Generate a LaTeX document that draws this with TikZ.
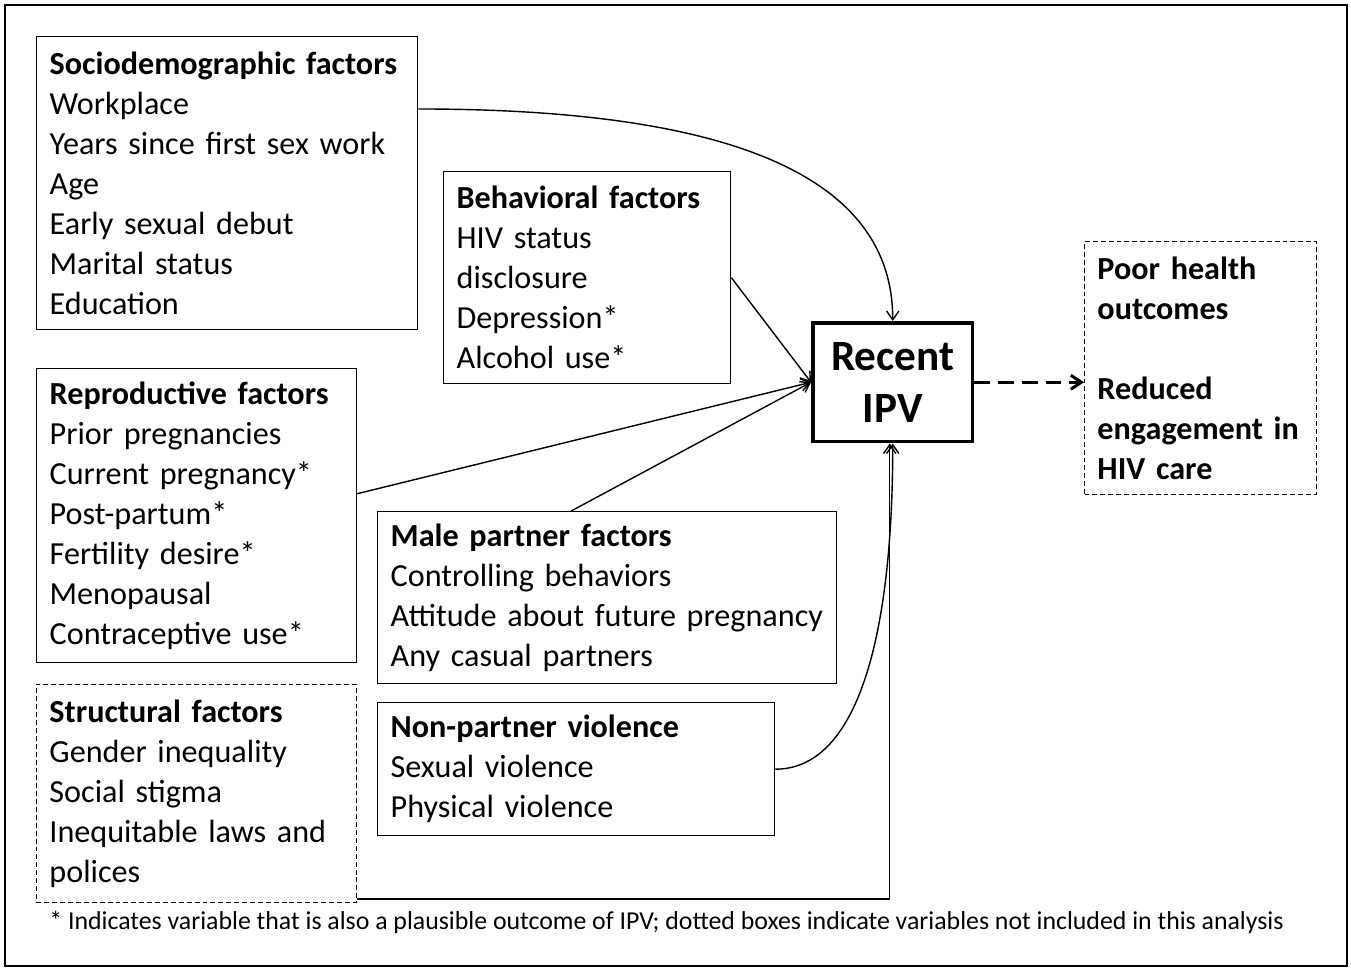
\documentclass[tikz,border=0pt]{standalone}
\usepackage{fontspec}
\setmainfont{Carlito}
\usetikzlibrary{arrows.meta}

\tikzset{
  factorbox/.style={draw, line width=0.8pt, rectangle, anchor=north west, align=left,
    inner xsep=0.26cm, inner ysep=0pt, font=\fontsize{18.3}{22.76}\selectfont},
  notincluded/.style={factorbox, line width=0.55pt, dash pattern=on 2.8pt off 1.7pt},
  arr/.style={line width=0.8pt, -{Straight Barb[length=5pt,width=7pt]}},
}

\begin{document}
\begin{tikzpicture}[x=0.02cm, y=-0.02cm]
  \useasboundingbox (0,0) rectangle (1351,969);
  \draw[line width=0.8pt] (5,5) rectangle (1347,966);

  % factor boxes
  \node[factorbox, text width=7.10cm, minimum height=5.86cm] (socio) at (36,36)
    {\textbf{Sociodemographic~factors}\\Workplace\\Years since first sex work\\Age\\Early sexual debut\\Marital status\\Education};
  \node[factorbox, text width=5.22cm, minimum height=4.24cm] (behav) at (443,171)
    {\textbf{Behavioral factors}\\HIV status\\disclosure\\Depression*\\Alcohol use*};
  \node[factorbox, text width=5.88cm, minimum height=5.88cm] (repro) at (36,368)
    {\textbf{Reproductive factors}\\Prior pregnancies\\Current pregnancy*\\Post-partum*\\Fertility desire*\\Menopausal\\Contraceptive use*};
  \node[factorbox, text width=8.66cm, minimum height=3.44cm] (male) at (377,511)
    {\textbf{Male partner factors}\\Controlling behaviors\\Attitude~about~future~pregnancy\\Any casual partners};
  \node[factorbox, text width=7.42cm, minimum height=2.66cm] (nonpartner) at (377,702)
    {\textbf{Non-partner violence}\\Sexual violence\\Physical violence};
  \node[notincluded, text width=5.88cm, minimum height=4.36cm] (struct) at (36,684)
    {\textbf{Structural factors}\\Gender inequality\\Social stigma\\Inequitable laws and\\polices};

  % outcome side
  \node[draw, line width=2pt, anchor=north west, minimum width=3.2cm, minimum height=2.38cm,
    align=center, font=\fontsize{24.6}{29.5}\selectfont\bfseries] (ipv) at (811,321) {Recent\\IPV};
  \node[notincluded, text width=4.12cm, minimum height=5.06cm, font=\fontsize{18.3}{22.76}\selectfont\bfseries] (outcome) at (1084,241)
    {Poor health\\outcomes\\~\\Reduced\\engagement~in\\HIV care};

  % connectors
  \draw[arr] ([yshift=-1.46cm]socio.north east) .. controls +(300,0) and +(0,-150) .. (ipv.north);
  \draw[arr] (behav.east) -- (ipv.west);
  \draw[arr] ([yshift=0.44cm]repro.east) -- (ipv.west);
  \draw[arr] ([xshift=-0.72cm]male.north) -- (ipv.west);
  \draw[arr] (nonpartner.east) .. controls +(80,0) and +(0,200) .. (ipv.south);
  \draw[arr] ([yshift=0.08cm]struct.south east) -| ([xshift=-0.06cm]ipv.south);
  \draw[line width=1.7pt, dash pattern=on 9pt off 4.5pt, -{Straight Barb[length=6pt,width=8pt]}]
    (ipv.east) -- (ipv.east -| outcome.west);

  \node[anchor=west, font=\fontsize{14.7}{16}\selectfont, inner sep=0pt] (note) at (49,922)
    {* Indicates variable that is also a plausible outcome of IPV; dotted boxes indicate variables not included in this analysis};
\end{tikzpicture}
\end{document}
